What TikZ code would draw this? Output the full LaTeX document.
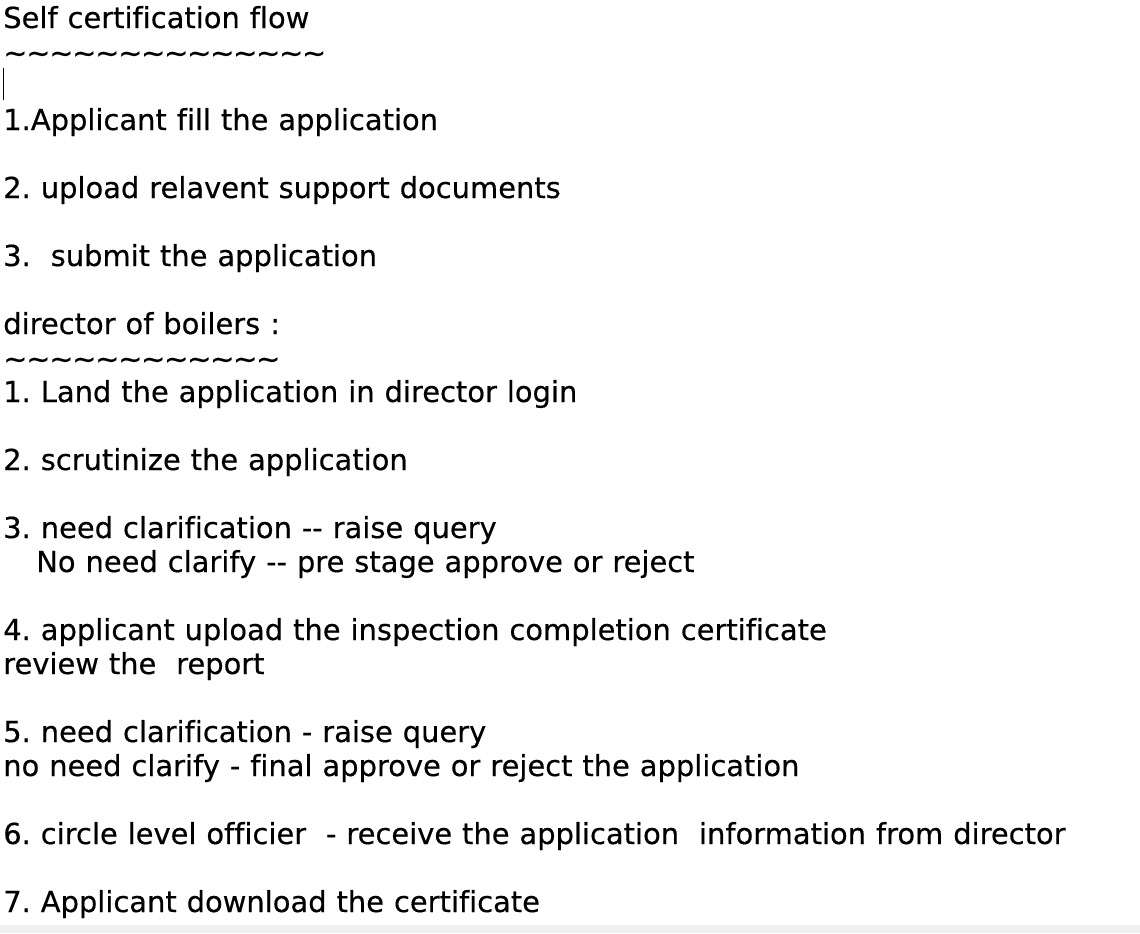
\documentclass[tikz,border=0pt]{standalone}
\usepackage{fontspec}
\newfontfamily\padfont{DejaVu Sans}[Ligatures=NoCommon, WordSpace=1.08, FakeBold=0.4]
\definecolor{stripgray}{HTML}{F0F0F0}
\newcommand{\squiggles}[1]{\foreach \k in {1,...,#1}{\textasciitilde\kern-0.95pt}}
\newcommand{\dd}{-\kern0pt-}
\begin{document}
\frenchspacing
\begin{tikzpicture}[x=0.75pt, y=-0.75pt,
		pad line/.style={anchor=base west, inner sep=0pt,
			font=\padfont\fontsize{21.7pt}{25pt}\selectfont}]
		
		\useasboundingbox (0,0) rectangle (1140,933);
		\fill[white] (0,0) rectangle (1140,933);
		\fill[stripgray] (0,925) rectangle (1140,933);
		
		\node[pad line] (title) at (3,28) {Self certification flow};
		\node[pad line] (titlerule) at (3,63) {\squiggles{14}};
		\draw[line width=0.75pt] (3,68) -- (3,100);
		\node[pad line] (appfill) at (3,130) {1.Applicant fill the application};
		\node[pad line] (appupload) at (3,198) {2. upload relavent support documents};
		\node[pad line] (appsubmit) at (3,266) {3.\ \ submit the application};
		
		\node[pad line] (director) at (3,334) {director of boilers :};
		\node[pad line] (dirrule) at (3,369) {\squiggles{12}};
		\node[pad line] (land) at (3,402) {1. Land the application in director login};
		\node[pad line] (scrutinize) at (3,470) {2. scrutinize the application};
		\node[pad line] (clarifyone) at (3,538) {3. need clarification \dd\ raise query};
		\node[pad line] (clarifyonealt) at (36,572) {No need clarify \dd\ pre stage approve or reject};
		\node[pad line] (inspection) at (3,640) {4. applicant upload the inspection completion certificate};
		\node[pad line] (review) at (3,674) {review the\ \ report};
		\node[pad line] (clarifytwo) at (3,742) {5. need clarification - raise query};
		\node[pad line] (clarifytwoalt) at (3,776) {no need clarify - final approve or reject the application};
		\node[pad line] (circle) at (3,844) {6. circle level officier\ \ - receive the application\ \ information from director};
		\node[pad line] (download) at (3,912) {7. Applicant download the certificate};
		\end{tikzpicture}
\end{document}
